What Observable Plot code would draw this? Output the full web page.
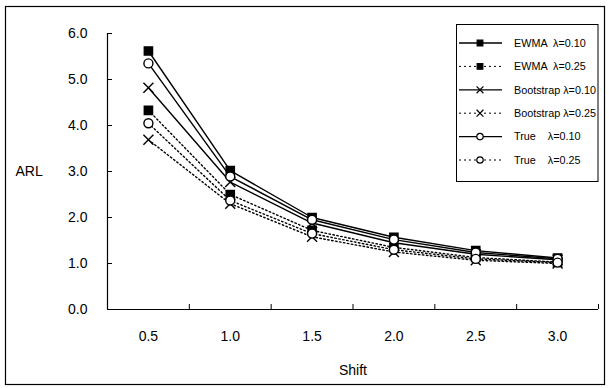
<!DOCTYPE html>
<html><head><meta charset="utf-8">
<script src="https://cdn.jsdelivr.net/npm/d3@7"></script>
<script src="https://cdn.jsdelivr.net/npm/@observablehq/plot@0.6"></script>
<style>
body{margin:0;background:#fff}
svg{font-family:"Liberation Sans",Arial,sans-serif}
</style>
</head><body><div id="chart"></div>
<script>
// ---- data ----
const shifts = [0.5, 1.0, 1.5, 2.0, 2.5, 3.0];
const shiftLabels = ["0.5", "1.0", "1.5", "2.0", "2.5", "3.0"];
const yTicks = [0, 1, 2, 3, 4, 5, 6];
const yTickLabels = ["0.0", "1.0", "2.0", "3.0", "4.0", "5.0", "6.0"];
const methods = ["EWMA", "EWMA", "Bootstrap", "Bootstrap", "True", "True"];
const lambdas = ["0.10", "0.25", "0.10", "0.25", "0.10", "0.25"];
const ewma010 = [5.62, 3.02, 2.00, 1.57, 1.28, 1.12];
const ewma025 = [4.33, 2.50, 1.72, 1.35, 1.13, 1.03];
const boot010 = [4.82, 2.77, 1.88, 1.45, 1.20, 1.08];
const boot025 = [3.69, 2.30, 1.58, 1.25, 1.07, 1.00];
const true010 = [5.35, 2.89, 1.95, 1.52, 1.24, 1.10];
const true025 = [4.05, 2.37, 1.65, 1.30, 1.10, 1.02];
const seriesValues = [ewma010, ewma025, boot010, boot025, true010, true025];
const legendNames = ["EWMA  ", "EWMA  ", "Bootstrap ", "Bootstrap ", "True    ", "True    "];

// ---- build table ----
const rows = [];
seriesValues.forEach((vals, i) => vals.forEach((v, j) => rows.push({
  shift: shifts[j], arl: v, method: methods[i], lambda: lambdas[i], key: methods[i] + lambdas[i]
})));
const symbolOf = {EWMA: "square", Bootstrap: "times", True: "circle"};
const boundaries = d3.range(shifts.length + 1).map(i => shifts[0] - 0.25 + i * 0.5);

const W = 609, H = 388;
const chart = Plot.plot({
  width: W, height: H,
  marginLeft: 107, marginRight: 11, marginTop: 33, marginBottom: 79,
  style: {fontFamily: '"Liberation Sans", Arial, sans-serif', background: "#fff", color: "#000"},
  x: {type: "linear", domain: [boundaries[0], boundaries[boundaries.length - 1]], axis: null},
  y: {domain: [0, 6], axis: null},
  marks: [
    Plot.ruleY([0], {stroke: "#000", strokeWidth: 1.2}),
    Plot.ruleX([boundaries[0]], {stroke: "#000", strokeWidth: 1.2}),
    Plot.axisX({ticks: boundaries, tickSize: 5, dy: -5, tickFormat: () => "", label: null, strokeWidth: 1}),
    Plot.axisX({ticks: shifts, tickSize: 0, tickPadding: 22, tickFormat: d => shiftLabels[shifts.indexOf(d)], label: null, fontSize: 14}),
    Plot.axisY({ticks: yTicks, tickSize: 5, dx: 5, tickFormat: () => "", label: null}),
    Plot.axisY({ticks: yTicks, tickSize: 0, tickPadding: 20, tickFormat: d => yTickLabels[yTicks.indexOf(d)], label: null, fontSize: 14}),
    Plot.text(["Shift"], {frameAnchor: "bottom", lineAnchor: "middle", dy: 61, fontSize: 14}),
    Plot.text(["ARL"], {y: () => 3, frameAnchor: "left", textAnchor: "start", dx: -92, fontSize: 14}),
    Plot.line(rows.filter(d => d.lambda === "0.25"), {x: "shift", y: "arl", z: "key", stroke: "#000", strokeWidth: 1.4, strokeDasharray: "1.5,2.5"}),
    Plot.line(rows.filter(d => d.lambda === "0.10"), {x: "shift", y: "arl", z: "key", stroke: "#000", strokeWidth: 1.4}),
    Plot.dot(rows.filter(d => d.method === "EWMA"), {x: "shift", y: "arl", symbol: "square", r: 4.6, fill: "#000", stroke: "#000"}),
    Plot.dot(rows.filter(d => d.method === "Bootstrap"), {x: "shift", y: "arl", symbol: "times", r: 4.6, stroke: "#000", strokeWidth: 1.4}),
    Plot.dot(rows.filter(d => d.method === "True"), {x: "shift", y: "arl", symbol: "circle", r: 4.5, fill: "#fff", stroke: "#000", strokeWidth: 1.4})
  ]
});
document.getElementById("chart").appendChild(chart);

// ---- outer frame and legend ----
const svg = d3.select(chart);
svg.append("rect").attr("x", 5.5).attr("y", 6.5).attr("width", 599).attr("height", 378)
  .attr("fill", "none").attr("stroke", "#000").attr("stroke-width", 1.2);
const lg = svg.append("g").attr("text-anchor", "start");
lg.append("rect").attr("x", 456.5).attr("y", 24.5).attr("width", 141.5).attr("height", 157)
  .attr("fill", "#fff").attr("stroke", "#000").attr("stroke-width", 1);
const symMap = {square: d3.symbolSquare, times: d3.symbolTimes, circle: d3.symbolCircle};
methods.forEach((m, i) => {
  const y = 43 + i * 23.4;
  const dashed = lambdas[i] === "0.25";
  lg.append("line").attr("x1", 459).attr("x2", 502).attr("y1", y).attr("y2", y)
    .attr("stroke", "#000").attr("stroke-width", dashed ? 1 : 1.3)
    .attr("stroke-dasharray", dashed ? "2,3" : null);
  const s = symbolOf[m];
  lg.append("path").attr("transform", `translate(480,${y})`)
    .attr("d", d3.symbol(symMap[s], Math.PI * 3.2 * 3.2)())
    .attr("fill", s === "square" ? "#000" : s === "circle" ? "#fff" : "none")
    .attr("stroke", "#000").attr("stroke-width", 1.2);
  lg.append("text").attr("x", 514).attr("y", y).attr("dy", "0.35em")
    .attr("text-anchor", "start")
    .attr("font-size", 10.8).style("white-space", "pre")
    .text(legendNames[i] + "\u03bb=" + lambdas[i]);
});
</script>
</body></html>
